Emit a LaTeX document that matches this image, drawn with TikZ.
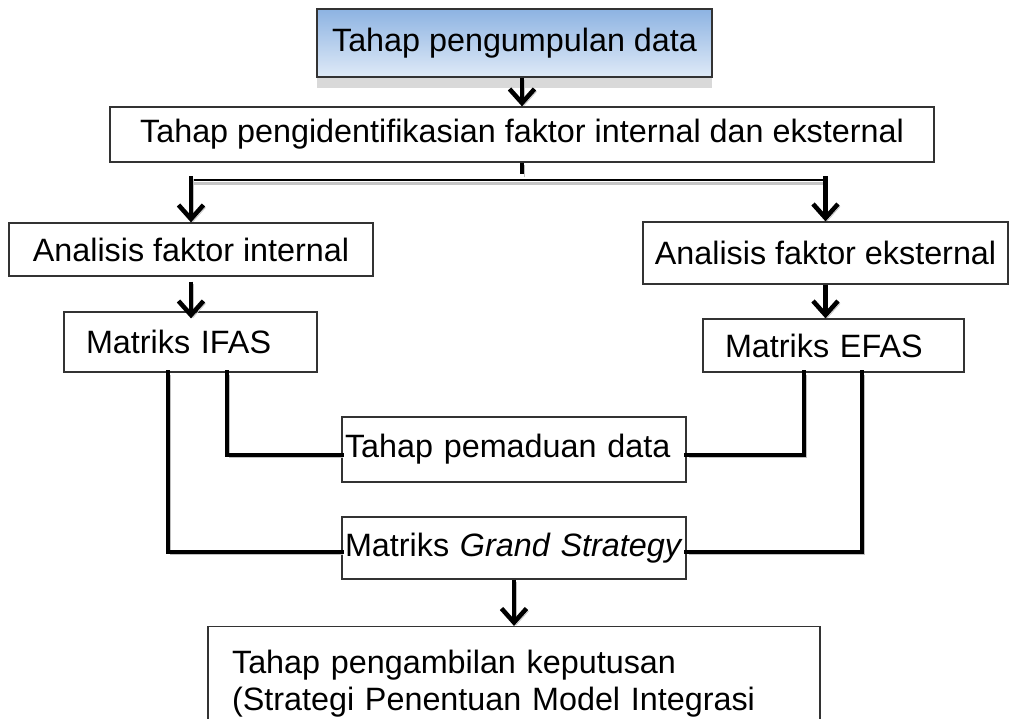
\documentclass[tikz,border=0pt]{standalone}
\usepackage{fontspec}
\setmainfont{Liberation Sans}
\usetikzlibrary{arrows.meta}

\definecolor{topblue}{RGB}{141,179,226}
\definecolor{lowblue}{RGB}{223,234,247}

\begin{document}
\begin{tikzpicture}[x=0.02cm, y=-0.02cm,
    font=\fontsize{18.4}{21}\selectfont,
    box/.style={draw=black!80, line width=0.7pt, fill=white, inner ysep=0pt},
    lbox/.style={box, align=left, inner xsep=#1},
    shade/.style={preaction={draw=gray!50, transform canvas={shift={(0.04cm,-0.05cm)}}}},
    link/.style={shade, line width=2.8pt, line cap=rect},
    arr/.style={shade, line width=2.6pt,
        -{Straight Barb[length=0.28cm, width=0.5cm, line width=2.6pt]}},
    branch/.style={preaction={draw=gray!45, line width=1.6pt,
        transform canvas={shift={(0.03cm,-0.07cm)}}}, line width=0.8pt}]
    \useasboundingbox (0,0) rectangle (1013,718);
    \clip (0,0) rectangle (1013,718);

    % boxes
    \node[box, minimum width=7.9cm, minimum height=1.36cm,
        top color=topblue, bottom color=lowblue,
        preaction={fill=gray!30, transform canvas={shift={(0,-0.22cm)}}}]
        (collect) at (514.5,43) {Tahap pengumpulan data};
    \node[box, minimum width=16.48cm, minimum height=1.1cm] (ident) at (522,134.5)
        {Tahap pengidentifikasian faktor internal dan eksternal};
    \node[box, minimum width=7.28cm, minimum height=1.06cm] (intl) at (191,249.5)
        {Analisis faktor internal};
    \node[box, minimum width=7.3cm, minimum height=1.24cm] (extl) at (825.5,253)
        {Analisis faktor eksternal};
    \node[lbox=0.44cm, text width=4.18cm, minimum height=1.2cm] (ifas) at (190.5,342)
        {Matriks IFAS};
    \node[lbox=0.44cm, text width=4.34cm, minimum height=1.06cm] (efas) at (833.5,345.5)
        {Matriks EFAS};
    \node[lbox=0.06cm, text width=6.76cm, minimum height=1.3cm] (merge) at (514,449.5)
        {Tahap pemaduan data};
    \node[lbox=0.06cm, text width=6.76cm, minimum height=1.24cm] (grand) at (514,548)
        {Matriks \textit{Grand Strategy}};
    \node[lbox=0.48cm, text width=11.28cm, minimum height=2.3cm] (decide) at (514,684)
        {Tahap pengambilan keputusan\\(Strategi Penentuan Model Integrasi};

    % split into internal / external
    \coordinate (split) at (522,180);
    \draw[arr] (collect.south -| ident.north) -- (ident.north);
    \draw[link, line width=2.4pt, line cap=butt] (ident.south) -- ([yshift=0.12cm]split);
    \draw[branch] (intl.north |- split) -- (extl.north |- split);
    \draw[arr] ([yshift=0.08cm]intl.north |- split) -- (intl.north);
    \draw[arr] ([yshift=0.08cm]extl.north |- split) -- (extl.north);
    \draw[arr] ([yshift=-0.1cm]intl.south) -- (intl.south |- efas.north);
    \draw[arr] (extl.south) -- (extl.south |- efas.north);

    % matrices into the later stages
    \draw[link] ([xshift=0.73cm]ifas.south) |- ([yshift=-0.11cm]merge.west);
    \draw[link] ([xshift=-0.45cm]ifas.south) |- ([yshift=-0.08cm]grand.west);
    \draw[link] ([xshift=-0.59cm]efas.south) |- ([yshift=-0.11cm]merge.east);
    \draw[link] ([xshift=0.57cm]efas.south) |- ([yshift=-0.08cm]grand.east);
    \draw[arr] (grand.south) -- (decide.north);
\end{tikzpicture}
\end{document}
